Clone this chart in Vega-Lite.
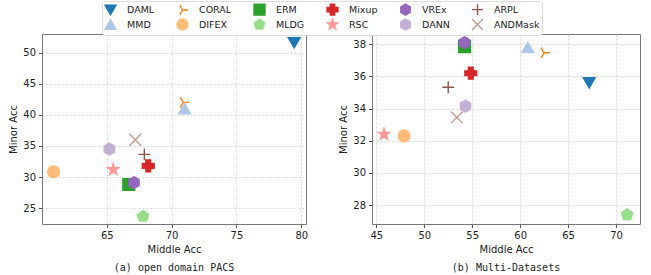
{
  "$schema": "https://vega.github.io/schema/vega-lite/v6.json",
  "autosize": {"type": "pad"},
  "padding": {"left": 8, "top": 0, "right": 0, "bottom": 0},
  "bounds": "flush",
  "spacing": 66,
  "datasets": {
    "pacs": [
      {"method": "DAML", "middle": 79.45, "minor": 51.6},
      {"method": "CORAL", "middle": 70.9, "minor": 42.0},
      {"method": "MMD", "middle": 71.0, "minor": 41.0},
      {"method": "ANDMask", "middle": 67.2, "minor": 36.0},
      {"method": "ARPL", "middle": 67.9, "minor": 33.65},
      {"method": "Mixup", "middle": 68.2, "minor": 31.8},
      {"method": "DANN", "middle": 65.2, "minor": 34.5},
      {"method": "DIFEX", "middle": 60.9, "minor": 30.85},
      {"method": "RSC", "middle": 65.5, "minor": 31.2},
      {"method": "ERM", "middle": 66.7, "minor": 28.8},
      {"method": "VREx", "middle": 67.1, "minor": 29.1},
      {"method": "MLDG", "middle": 67.8, "minor": 23.7}
    ],
    "multi": [
      {"method": "DAML", "middle": 67.2, "minor": 35.6},
      {"method": "CORAL", "middle": 62.5, "minor": 37.47},
      {"method": "MMD", "middle": 60.8, "minor": 37.8},
      {"method": "ERM", "middle": 54.2, "minor": 37.85},
      {"method": "VREx", "middle": 54.2, "minor": 38.1},
      {"method": "Mixup", "middle": 54.85, "minor": 36.2},
      {"method": "ARPL", "middle": 52.5, "minor": 35.33},
      {"method": "DANN", "middle": 54.3, "minor": 34.15},
      {"method": "ANDMask", "middle": 53.4, "minor": 33.45},
      {"method": "RSC", "middle": 45.8, "minor": 32.4},
      {"method": "DIFEX", "middle": 47.9, "minor": 32.3},
      {"method": "MLDG", "middle": 71.15, "minor": 27.4}
    ]
  },
  "config": {
    "font": "DejaVu Sans",
    "view": {"stroke": "#777", "strokeWidth": 1},
    "axis": {
      "domain": false,
      "labelFont": "DejaVu Sans",
      "labelFontSize": 10,
      "labelColor": "#222",
      "titleFont": "DejaVu Sans",
      "titleFontSize": 10,
      "titleFontWeight": "normal",
      "titleColor": "#222",
      "tickColor": "#555",
      "tickSize": 3.5,
      "labelPadding": 3,
      "gridColor": "#cccccc",
      "gridDash": [2, 2],
      "gridWidth": 0.8
    },
    "title": {
      "font": "DejaVu Sans Mono",
      "fontSize": 10,
      "fontWeight": "normal",
      "orient": "bottom",
      "anchor": "middle",
      "color": "#222",
      "offset": 8
    },
    "legend": {
      "orient": "none",
      "legendX": 60,
      "legendY": -33,
      "columns": 6,
      "title": null,
      "labelFont": "DejaVu Sans",
      "labelFontSize": 9.5,
      "labelColor": "#222",
      "symbolSize": 120,
      "symbolStrokeWidth": 1.4,
      "labelOffset": 10,
      "columnPadding": 19,
      "rowPadding": -4,
      "padding": 2,
      "strokeColor": "#dddddd",
      "fillColor": "white",
      "cornerRadius": 3
    }
  },
  "hconcat": [
    {
      "width": 264,
      "height": 190,
      "title": "(a) open domain PACS",
      "data": {"name": "pacs"},
      "mark": {"type": "point", "size": 140, "strokeWidth": 1.4, "opacity": 1},
      "encoding": {
        "x": {"field": "middle", "type": "quantitative", "title": "Middle Acc",
              "scale": {"domain": [60.01, 80.36], "nice": false, "zero": false},
              "axis": {"values": [65, 70, 75, 80]}},
        "y": {"field": "minor", "type": "quantitative", "title": "Minor Acc",
              "scale": {"domain": [22.45, 53.0], "nice": false, "zero": false},
              "axis": {"values": [25, 30, 35, 40, 45, 50]}},
        "fill": {"field": "method", "type": "nominal", "title": null,
                 "scale": {"domain": ["DAML","MMD","CORAL","DIFEX","ERM","MLDG","Mixup","RSC","VREx","DANN","ARPL","ANDMask"],
                           "range": ["#1f77b4","#aec7e8","transparent","#ffbb78","#2ca02c","#98df8a","#d62728","#ff9896","#9467bd","#c5b0d5","transparent","transparent"]}},
        "stroke": {"field": "method", "type": "nominal", "title": null,
                 "scale": {"domain": ["DAML","MMD","CORAL","DIFEX","ERM","MLDG","Mixup","RSC","VREx","DANN","ARPL","ANDMask"],
                           "range": ["#1f77b4","#aec7e8","#ff7f0e","#ffbb78","#2ca02c","#98df8a","#d62728","#ff9896","#9467bd","#c5b0d5","#8c564b","#c49c94"]}},
        "shape": {"field": "method", "type": "nominal", "title": null,
                 "scale": {"domain": ["DAML","MMD","CORAL","DIFEX","ERM","MLDG","Mixup","RSC","VREx","DANN","ARPL","ANDMask"],
                           "range": ["triangle-down","triangle-up","M0,0L1,0M0,0L-0.5,-0.866M0,0L-0.5,0.866","circle","square","M0,-1L0.951,-0.309L0.588,0.809L-0.588,0.809L-0.951,-0.309Z","cross","M0,-1L0.235,-0.324L0.951,-0.309L0.380,0.124L0.588,0.809L0,0.4L-0.588,0.809L-0.380,0.124L-0.951,-0.309L-0.235,-0.324Z","M0,-1L0.866,-0.5L0.866,0.5L0,1L-0.866,0.5L-0.866,-0.5Z","M0,-1L0.866,-0.5L0.866,0.5L0,1L-0.866,0.5L-0.866,-0.5Z","M-1,0L1,0M0,-1L0,1","M-1,-1L1,1M-1,1L1,-1"]}}
      }
    },
    {
      "width": 268,
      "height": 190,
      "title": "(b) Multi-Datasets",
      "data": {"name": "multi"},
      "mark": {"type": "point", "size": 140, "strokeWidth": 1.4, "opacity": 1},
      "encoding": {
        "x": {"field": "middle", "type": "quantitative", "title": "Middle Acc",
              "scale": {"domain": [44.55, 72.5], "nice": false, "zero": false},
              "axis": {"values": [45, 50, 55, 60, 65, 70]}},
        "y": {"field": "minor", "type": "quantitative", "title": "Minor Acc",
              "scale": {"domain": [26.82, 38.64], "nice": false, "zero": false},
              "axis": {"values": [28, 30, 32, 34, 36, 38]}},
        "fill": {"field": "method", "type": "nominal", "title": null},
        "stroke": {"field": "method", "type": "nominal", "title": null},
        "shape": {"field": "method", "type": "nominal", "title": null}
      }
    }
  ]
}
